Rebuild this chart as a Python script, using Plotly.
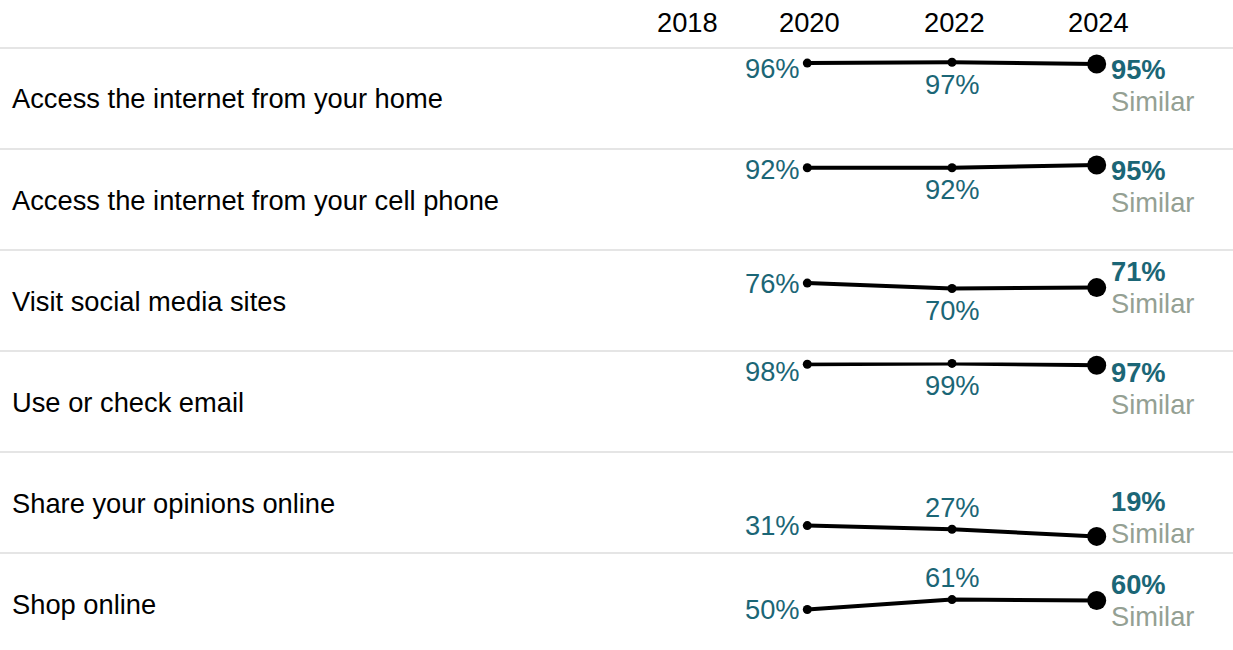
import plotly.graph_objects as go

# ---- data -------------------------------------------------------------
categories = [
    "Access the internet from your home",
    "Access the internet from your cell phone",
    "Visit social media sites",
    "Use or check email",
    "Share your opinions online",
    "Shop online",
]
years = [2020, 2022, 2024]
values_2020 = [96, 92, 76, 98, 31, 50]
values_2022 = [97, 92, 70, 99, 27, 61]
values_2024 = [95, 95, 71, 97, 19, 60]
change_labels = ["Similar", "Similar", "Similar", "Similar", "Similar", "Similar"]
header_years = [2018, 2020, 2022, 2024]

# ---- layout constants -------------------------------------------------
W, H = 1233, 650
ROW_TOP0, ROW_H = 48, 101          # first separator and row pitch (px)
X_2020_PX, PX_PER_YEAR = 807.3, 72.35
ZERO_OFF, PX_PER_PT = 101.5, 0.9   # value 0 sits 101.5px below the row top

TEAL = "#1b6676"
GREY = "#94a093"
RULE = "#dcdcdc"
FONT = "Liberation Sans, Arial, Helvetica, sans-serif"
FS = 27.3

x_range = [2020 - X_2020_PX / PX_PER_YEAR, 2020 + (W - X_2020_PX) / PX_PER_YEAR]

fig = go.Figure()
annotations = []
shapes = []
layout_axes = {}


def val_at_offset(off):
    """Value that lands `off` pixels below a row's top edge."""
    return (ZERO_OFF - off) / PX_PER_PT


LABEL_2020_MAX = val_at_offset(20)
BLOCK_MAX = val_at_offset(37.5)
BLOCK_MIN = val_at_offset(65.8)

for i, cat in enumerate(categories):
    n = "" if i == 0 else str(i + 1)
    xa, ya = "x" + n, "y" + n
    top = ROW_TOP0 + i * ROW_H
    bottom_px = min(top + ZERO_OFF, H)
    dom_top_px = top + ZERO_OFF - 100 * PX_PER_PT
    y_domain = [1 - bottom_px / H, 1 - dom_top_px / H]
    y_range = [(top + ZERO_OFF - bottom_px) / PX_PER_PT, 100]

    layout_axes["xaxis" + n] = dict(domain=[0, 1], range=x_range, visible=False,
                                    fixedrange=True, anchor=ya)
    layout_axes["yaxis" + n] = dict(domain=y_domain, range=y_range, visible=False,
                                    fixedrange=True, anchor=xa)

    vals = [values_2020[i], values_2022[i], values_2024[i]]
    fig.add_trace(go.Scatter(
        x=years, y=vals, xaxis=xa, yaxis=ya,
        mode="lines+markers",
        line=dict(color="black", width=4),
        marker=dict(color="black", size=[9, 9, 19], opacity=1,
                    line=dict(width=0)),
        cliponaxis=False, hoverinfo="skip", showlegend=False,
    ))

    # row separator
    shapes.append(dict(type="line", xref="paper", yref="paper",
                       x0=0, x1=1, y0=1 - top / H, y1=1 - top / H,
                       line=dict(color=RULE, width=1.5)))

    # category label
    annotations.append(dict(
        text=cat, xref="paper", yref="paper", x=10 / W, y=1 - (top + 51) / H,
        xanchor="left", yanchor="middle", showarrow=False,
        font=dict(family=FONT, size=FS, color="black"),
    ))

    # 2020 value, left of the point
    annotations.append(dict(
        text=f"{values_2020[i]}%", xref=xa, yref=ya,
        x=years[0], y=min(values_2020[i], LABEL_2020_MAX),
        xanchor="right", yanchor="middle", xshift=-5, showarrow=False,
        font=dict(family=FONT, size=FS, color=TEAL),
    ))

    # 2022 value, above low points and below high ones
    v22 = values_2022[i]
    annotations.append(dict(
        text=f"{v22}%", xref=xa, yref=ya, x=years[1], y=v22,
        xanchor="center", yanchor="middle",
        yshift=22 if v22 < 65 else -22, showarrow=False,
        font=dict(family=FONT, size=FS, color=TEAL),
    ))

    # 2024 value + change label block, right of the point
    v24 = values_2024[i]
    centre = min(max(v24, BLOCK_MIN), BLOCK_MAX)
    annotations.append(dict(
        text=f"<b>{v24}%</b>", xref=xa, yref=ya, x=years[2], y=centre,
        xanchor="left", yanchor="middle", xshift=12, yshift=16, showarrow=False,
        font=dict(family=FONT, size=FS, color=TEAL),
    ))
    annotations.append(dict(
        text=change_labels[i], xref=xa, yref=ya, x=years[2], y=centre,
        xanchor="left", yanchor="middle", xshift=12, yshift=-16, showarrow=False,
        font=dict(family=FONT, size=FS, color=GREY),
    ))

# year header
for yr in header_years:
    annotations.append(dict(
        text=str(yr), xref="x", yref="paper", x=yr, y=1 - 22 / H,
        xanchor="center", yanchor="middle",
        xshift=25 if yr == header_years[0] else 2, showarrow=False,
        font=dict(family=FONT, size=FS, color="black"),
    ))

fig.update_layout(
    width=W, height=H,
    margin=dict(l=0, r=0, t=0, b=0),
    paper_bgcolor="white", plot_bgcolor="white",
    showlegend=False,
    annotations=annotations,
    shapes=shapes,
    **layout_axes,
)

fig.write_html("out.html", config={"displayModeBar": False})
